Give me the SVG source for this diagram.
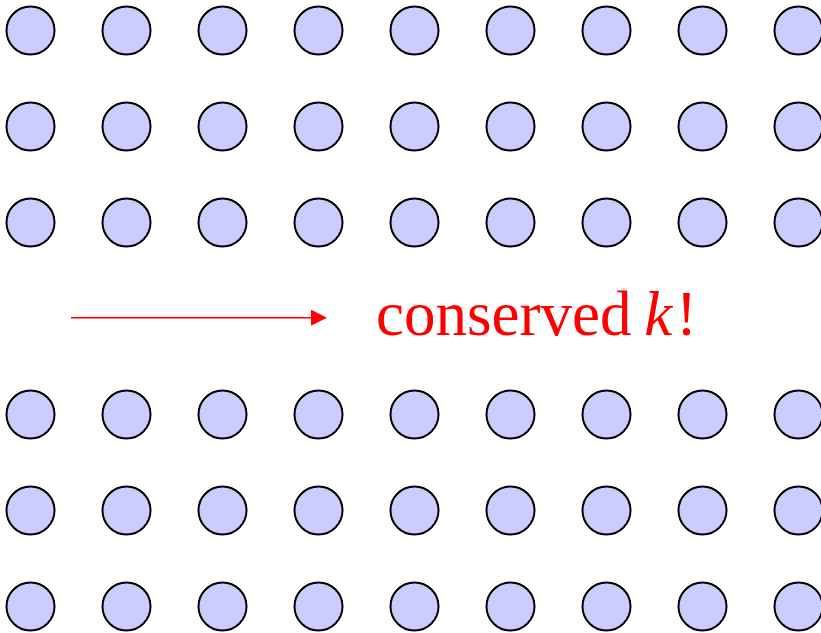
<svg xmlns="http://www.w3.org/2000/svg" width="821" height="633" viewBox="0 0 821 633">
<style>
.site{fill:#ccccff;stroke:#000;stroke-width:2}
.lbl{font-family:"Liberation Serif","Times New Roman",serif;font-size:63px;fill:#ff0000}
</style>
<defs>
<marker id="ah" markerWidth="16" markerHeight="16" refX="0" refY="8" orient="auto" markerUnits="userSpaceOnUse"><path d="M0,0 L16,8 L0,16 Z" fill="#ff0000"/></marker>
<circle id="c" r="24" class="site"/>
</defs>
<g id="lattice-top">
<g id="r1"><use href="#c" x="30.5" y="30.5"/><use href="#c" x="126.5" y="30.5"/><use href="#c" x="222.5" y="30.5"/><use href="#c" x="318.5" y="30.5"/><use href="#c" x="414.5" y="30.5"/><use href="#c" x="510.5" y="30.5"/><use href="#c" x="606.5" y="30.5"/><use href="#c" x="702.5" y="30.5"/><use href="#c" x="798.5" y="30.5"/></g>
<g id="r2"><use href="#c" x="30.5" y="126.5"/><use href="#c" x="126.5" y="126.5"/><use href="#c" x="222.5" y="126.5"/><use href="#c" x="318.5" y="126.5"/><use href="#c" x="414.5" y="126.5"/><use href="#c" x="510.5" y="126.5"/><use href="#c" x="606.5" y="126.5"/><use href="#c" x="702.5" y="126.5"/><use href="#c" x="798.5" y="126.5"/></g>
<g id="r3"><use href="#c" x="30.5" y="222.5"/><use href="#c" x="126.5" y="222.5"/><use href="#c" x="222.5" y="222.5"/><use href="#c" x="318.5" y="222.5"/><use href="#c" x="414.5" y="222.5"/><use href="#c" x="510.5" y="222.5"/><use href="#c" x="606.5" y="222.5"/><use href="#c" x="702.5" y="222.5"/><use href="#c" x="798.5" y="222.5"/></g>
</g>
<g id="lattice-bottom">
<g id="r4"><use href="#c" x="30.5" y="414.5"/><use href="#c" x="126.5" y="414.5"/><use href="#c" x="222.5" y="414.5"/><use href="#c" x="318.5" y="414.5"/><use href="#c" x="414.5" y="414.5"/><use href="#c" x="510.5" y="414.5"/><use href="#c" x="606.5" y="414.5"/><use href="#c" x="702.5" y="414.5"/><use href="#c" x="798.5" y="414.5"/></g>
<g id="r5"><use href="#c" x="30.5" y="510.5"/><use href="#c" x="126.5" y="510.5"/><use href="#c" x="222.5" y="510.5"/><use href="#c" x="318.5" y="510.5"/><use href="#c" x="414.5" y="510.5"/><use href="#c" x="510.5" y="510.5"/><use href="#c" x="606.5" y="510.5"/><use href="#c" x="702.5" y="510.5"/><use href="#c" x="798.5" y="510.5"/></g>
<g id="r6"><use href="#c" x="30.5" y="606.5"/><use href="#c" x="126.5" y="606.5"/><use href="#c" x="222.5" y="606.5"/><use href="#c" x="318.5" y="606.5"/><use href="#c" x="414.5" y="606.5"/><use href="#c" x="510.5" y="606.5"/><use href="#c" x="606.5" y="606.5"/><use href="#c" x="702.5" y="606.5"/><use href="#c" x="798.5" y="606.5"/></g>
</g>
<g id="connectors">
<line x1="71" y1="317.7" x2="311" y2="317.7" stroke="#ff0000" stroke-width="1.5" marker-end="url(#ah)"/>
</g>
<g id="label">
<text class="lbl" x="376" y="335">conserved<tspan dx="-3" font-style="italic"> k</tspan><tspan dx="4">!</tspan></text>
</g>
</svg>
